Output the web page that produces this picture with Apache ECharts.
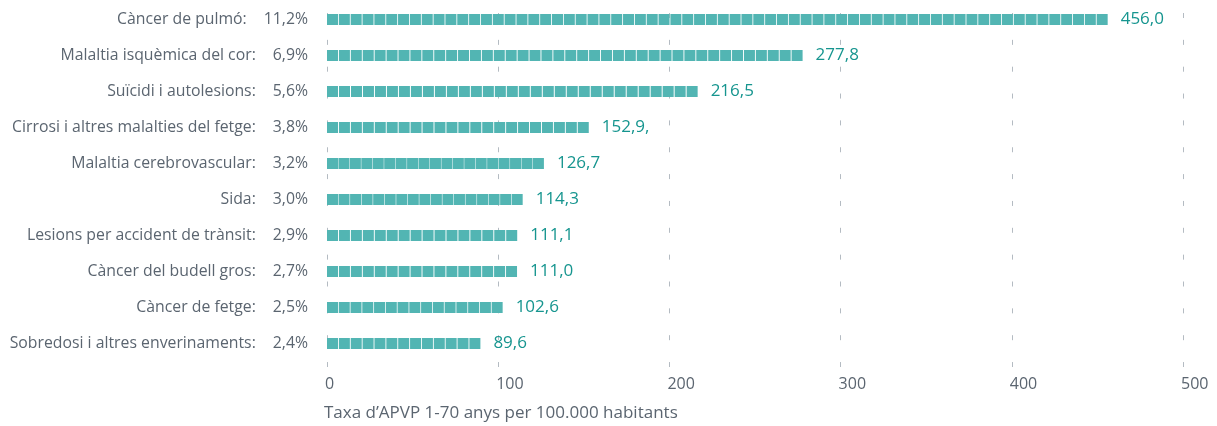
<!DOCTYPE html>
<html>
<head>
<meta charset="utf-8">
<script src="https://cdn.jsdelivr.net/npm/echarts@6/dist/echarts.min.js"></script>
<style>
  html, body { margin: 0; padding: 0; background: #ffffff; }
  #chart { width: 1217px; height: 426px; }
</style>
</head>
<body>
<div id="chart"></div>
<script>
// Causes of death ranked by years of potential life lost
const causes = [
  'Càncer de pulmó:',
  'Malaltia isquèmica del cor:',
  'Suïcidi i autolesions:',
  'Cirrosi i altres malalties del fetge:',
  'Malaltia cerebrovascular:',
  'Sida:',
  'Lesions per accident de trànsit:',
  'Càncer del budell gros:',
  'Càncer de fetge:',
  'Sobredosi i altres enverinaments:'
];
const shares = ['11,2%', '6,9%', '5,6%', '3,8%', '3,2%', '3,0%', '2,9%', '2,7%', '2,5%', '2,4%'];
const rates = [456.0, 277.8, 216.5, 152.9, 126.7, 114.3, 111.1, 111.0, 102.6, 89.6];
const rateLabels = ['456,0', '277,8', '216,5', '152,9,', '126,7', '114,3', '111,1', '111,0', '102,6', '89,6'];
const xTicks = [0, 100, 200, 300, 400, 500];
const axisTitle = 'Taxa d\u2019APVP 1-70 anys per 100.000 habitants';

const FONT = '"Open Sans", "Noto Sans", sans-serif';
const GREY = '#5b6570';
const TEAL = '#16958f';
const BAR = '#52b5b3';

const chart = echarts.init(document.getElementById('chart'), null, { renderer: 'canvas' });

// each bar is tiled with squares that run exactly up to its own value
const barData = rates.map(v => ({ value: v, symbolBoundingData: v }));

chart.setOption({
  animation: false,
  backgroundColor: '#ffffff',
  textStyle: { fontFamily: FONT },
  title: {
    text: axisTitle,
    left: 324,
    top: 405,
    padding: 0,
    textStyle: { fontFamily: FONT, fontSize: 17, fontWeight: 'normal', color: GREY }
  },
  grid: [
    { left: 327, width: 856, top: 1.5, height: 360 },
    { left: 327, width: 856, top: 13, height: 354 }
  ],
  xAxis: [
    {
      gridIndex: 0,
      type: 'value',
      min: xTicks[0],
      max: xTicks[xTicks.length - 1],
      interval: 100,
      axisLine: { show: false },
      axisTick: { show: false },
      splitLine: { show: false },
      axisLabel: {
        margin: 15,
        align: 'left',
        padding: [0, 0, 0, -2],
        fontFamily: FONT,
        fontSize: 16,
        color: GREY,
        formatter: v => String(v)
      }
    },
    {
      // dashed vertical guides
      gridIndex: 1,
      type: 'value',
      min: xTicks[0],
      max: xTicks[xTicks.length - 1],
      interval: 100,
      axisLine: { show: false },
      axisTick: { show: false },
      axisLabel: { show: false },
      splitLine: {
        show: true,
        lineStyle: { color: '#b4bbc2', width: 1, type: [5, 21.85] }
      }
    }
  ],
  yAxis: [
    {
      gridIndex: 0,
      type: 'category',
      data: causes,
      inverse: true,
      axisLine: { show: false },
      axisTick: { show: false },
      axisLabel: {
        margin: 19,
        align: 'right',
        formatter: (v, i) => `{n|${v}}{p|${shares[i]}}`,
        rich: {
          n: { fontFamily: FONT, fontSize: 15.8, color: GREY },
          p: { fontFamily: FONT, fontSize: 15.8, color: GREY, padding: [0, 0, 0, 17] }
        }
      }
    },
    {
      gridIndex: 1,
      type: 'category',
      data: causes,
      show: false
    }
  ],
  series: [
    {
      type: 'pictorialBar',
      xAxisIndex: 0,
      yAxisIndex: 0,
      data: barData,
      symbol: 'rect',
      symbolRepeat: true,
      symbolSize: [11, 11],
      symbolMargin: 0.5,
      itemStyle: { color: BAR },
      label: {
        show: true,
        position: 'right',
        distance: 13,
        fontFamily: FONT,
        fontSize: 17,
        color: TEAL,
        formatter: p => rateLabels[p.dataIndex]
      },
      z: 3
    }
  ]
});
</script>
</body>
</html>
